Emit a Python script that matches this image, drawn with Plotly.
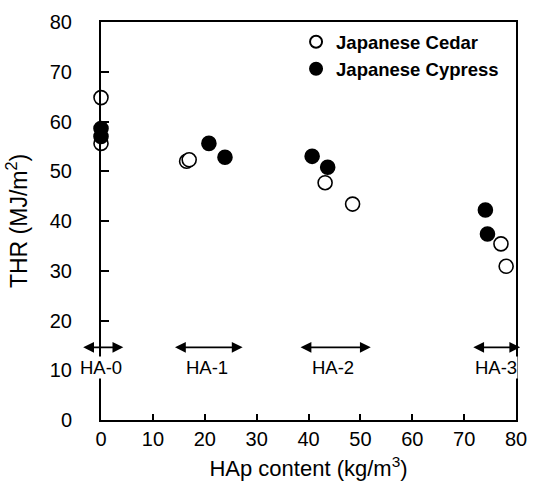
import plotly.graph_objects as go

# Data
cedar_x = [0, 0, 16.5, 17.0, 43.2, 48.5, 77.1, 78.1]
cedar_y = [64.8, 55.6, 52.0, 52.3, 47.7, 43.4, 35.4, 30.9]
cypress_x = [0, 0, 20.8, 23.9, 40.7, 43.7, 74.1, 74.5]
cypress_y = [58.6, 57.0, 55.6, 52.8, 53.0, 50.8, 42.2, 37.4]

groups = ["HA-0", "HA-1", "HA-2", "HA-3"]
group_start = [-4.3, 13.4, 37.6, 70.9]
group_end = [4.3, 27.3, 52.0, 80.8]
group_label_x = [0, 20.4, 44.7, 76.2]
arrow_y = 14.6
label_y = 10.6

FONT = "Liberation Sans, Arial, sans-serif"

fig = go.Figure()
fig.add_trace(go.Scatter(
    x=cedar_x, y=cedar_y, mode="markers", name="Japanese Cedar",
    legendgroup="a",
    marker=dict(symbol="circle", size=14, color="white",
                line=dict(color="black", width=1.6)),
    cliponaxis=False,
))
fig.add_trace(go.Scatter(
    x=cypress_x, y=cypress_y, mode="markers", name="Japanese Cypress",
    legendgroup="b",
    marker=dict(symbol="circle", size=14, color="black",
                line=dict(color="black", width=1.6)),
    cliponaxis=False,
))

for g, s, e, lx in zip(groups, group_start, group_end, group_label_x):
    fig.add_annotation(
        x=e, y=arrow_y, ax=s, ay=arrow_y, xref="x", yref="y",
        axref="x", ayref="y", text=" ", showarrow=True,
        arrowhead=2, startarrowhead=2, arrowside="end+start",
        arrowsize=1.2, startarrowsize=1.2, arrowwidth=1.8, arrowcolor="black",
        standoff=0, startstandoff=0,
    )
    fig.add_annotation(
        x=lx, y=label_y, xref="x", yref="y", text=g, showarrow=False,
        font=dict(family=FONT, size=18.5, color="black"),
        bgcolor="white", borderpad=0,
    )

fig.update_layout(
    width=538, height=488,
    margin=dict(l=101, r=11, t=19, b=66),
    paper_bgcolor="white", plot_bgcolor="white",
    font=dict(family=FONT, size=20, color="black"),
    showlegend=True,
    legend=dict(
        x=0.47, y=0.997, xanchor="left", yanchor="top",
        bgcolor="rgba(0,0,0,0)", borderwidth=0,
        font=dict(family=FONT, size=18.5, color="black", weight="bold"),
        traceorder="grouped", tracegroupgap=0, itemwidth=30,
        itemsizing="constant",
    ),
    xaxis=dict(
        range=[0, 80], dtick=10, tick0=0,
        showline=True, linecolor="black", linewidth=2, mirror=True,
        ticks="inside", ticklen=6, tickwidth=2, tickcolor="black",
        showgrid=False, zeroline=False,
        tickfont=dict(family=FONT, size=20),
        title=dict(text="HAp content (kg/m<sup>3</sup>)", font=dict(family=FONT, size=22), standoff=12),
    ),
    yaxis=dict(
        range=[0, 80], dtick=10, tick0=0,
        showline=True, linecolor="black", linewidth=2, mirror=True,
        ticks="inside", ticklen=8, tickwidth=2, tickcolor="black",
        showgrid=False, zeroline=False,
        tickfont=dict(family=FONT, size=20), ticklabelstandoff=23,
        title=dict(text="THR (MJ/m<sup>2</sup>)", font=dict(family=FONT, size=23), standoff=16),
    ),
)

fig.write_html("out.html")
